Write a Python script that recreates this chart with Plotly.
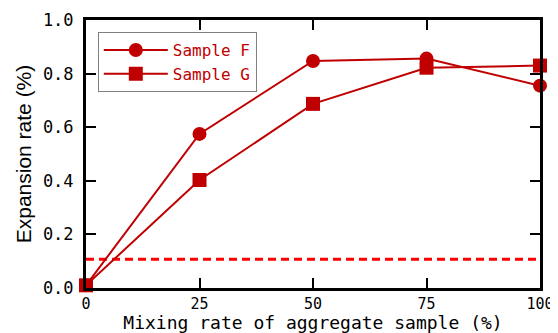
import plotly.graph_objects as go

mixing_rate = [0, 25, 50, 75, 100]
sample_f = [0.01, 0.575, 0.847, 0.856, 0.755]
sample_g = [0.01, 0.403, 0.687, 0.822, 0.830]
threshold = 0.107
x_ticks = [0, 25, 50, 75, 100]
y_ticks = [0.0, 0.2, 0.4, 0.6, 0.8, 1.0]
y_tick_labels = ["0.0", "0.2", "0.4", "0.6", "0.8", "1.0"]

line_color = "#C00000"
mono = "DejaVu Sans Mono"

fig = go.Figure()
fig.add_trace(go.Scatter(
    x=[0, 100], y=[threshold, threshold], mode="lines",
    line=dict(color="#FF0000", width=3, dash="8px,5px"),
    showlegend=False, hoverinfo="skip", cliponaxis=False))
fig.add_trace(go.Scatter(
    x=mixing_rate, y=sample_f, name="Sample F", mode="lines+markers",
    line=dict(color=line_color, width=2),
    marker=dict(symbol="circle", size=14, color=line_color),
    cliponaxis=False))
fig.add_trace(go.Scatter(
    x=mixing_rate, y=sample_g, name="Sample G", mode="lines+markers",
    line=dict(color=line_color, width=2),
    marker=dict(symbol="square", size=14, color=line_color),
    cliponaxis=False))

axis_common = dict(
    showline=True, linecolor="black", linewidth=3, mirror="ticks",
    ticks="inside", ticklen=10, tickwidth=2, tickcolor="black",
    showgrid=False, zeroline=False, automargin=False,
)

fig.update_layout(
    width=550, height=325,
    margin=dict(l=78, r=18, t=12, b=45),
    plot_bgcolor="white", paper_bgcolor="white",
    xaxis=dict(range=[0, 100], tickvals=x_ticks,
               tickfont=dict(family=mono, size=15, color="black"),
               title=dict(text="Mixing rate of aggregate sample (%)",
                          font=dict(family=mono, size=18, color="black"),
                          standoff=2),
               **axis_common),
    yaxis=dict(range=[0, 1.0], tickvals=y_ticks, ticktext=y_tick_labels,
               tickfont=dict(family=mono, size=17, color="black"),
               ticklabelstandoff=6,
               title=dict(text="Expansion rate (%)",
                          font=dict(family="Liberation Sans", size=21, color="black"),
                          standoff=6),
               **axis_common),
    legend=dict(x=0.026, y=0.955, xanchor="left", yanchor="top",
                bordercolor="#808080", borderwidth=1, bgcolor="white",
                font=dict(family=mono, size=16, color=line_color),
                itemwidth=64, tracegroupgap=2),
    showlegend=True,
)

fig.write_html("out.html")
